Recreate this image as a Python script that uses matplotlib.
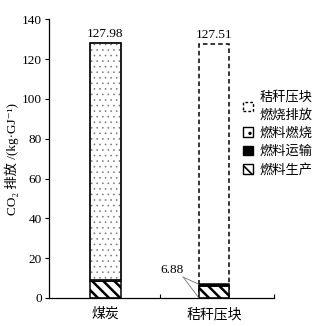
import matplotlib.pyplot as plt
from matplotlib.patches import Patch

plt.rcParams['font.family'] = ['Liberation Serif', 'Noto Sans CJK SC', 'DejaVu Serif']
plt.rcParams['axes.linewidth'] = 0.9

categories = ['煤炭', '秸秆压块']
production = [8.5, 5.9]
transport = [0.6, 0.98]
combustion = [118.88, 0.0]
straw_burn_total = 127.51
totals = [127.98, 127.51]
straw_small_total = 6.88

fig = plt.figure(figsize=(3.26, 3.26), dpi=100)
ax = fig.add_axes([0.150, 0.086, 0.690, 0.855])

x = [0, 1]
w = 0.28

# dashed outline for straw briquette combustion emissions
ax.bar(x[1], straw_burn_total, w, fill=False, edgecolor='black',
       linestyle=(0, (3, 2)), linewidth=1.1, zorder=1)

plt.rcParams['hatch.linewidth'] = 1.8
ax.bar(x, production, w, facecolor='white', edgecolor='black',
       hatch='\\\\\\', linewidth=1.1, zorder=2)
ax.bar(x, transport, w, bottom=production, facecolor='black',
       edgecolor='black', linewidth=1.1, zorder=2)
bottom3 = [p + t for p, t in zip(production, transport)]
plt.rcParams['hatch.linewidth'] = 0.4
ax.bar(x[0], combustion[0], w, bottom=bottom3[0], facecolor='white',
       edgecolor='0.45', hatch='...', linewidth=1.1, zorder=2)
ax.bar(x[0], combustion[0], w, bottom=bottom3[0], fill=False,
       edgecolor='black', linewidth=1.1, zorder=3)

for xi, t in zip(x, totals):
    ax.text(xi, t + 1.5, f'{t:.2f}', ha='center', va='bottom', fontsize=9.5)

# bracket annotation for the small straw stack
ax.text(0.61, 14, f'{straw_small_total:.2f}', ha='center', va='center',
        fontsize=9.5)
for yy in (straw_small_total, 0):
    ax.annotate('', xy=(x[1] - w / 2, yy), xytext=(0.715, 10.5),
                arrowprops=dict(arrowstyle='-', color='0.45', lw=0.6,
                                shrinkA=0, shrinkB=0))

ax.set_xlim(-0.52, 1.55)
ax.set_ylim(0, 140)
ax.set_yticks(range(0, 141, 20))
ax.tick_params(axis='y', direction='out', length=3, width=0.8, labelsize=9.5, pad=2)
ax.set_xticks([0.5, 1.55])
ax.set_xticklabels(['', ''])
ax.tick_params(axis='x', direction='in', length=3, width=0.8)
for xi, c in zip(x, categories):
    ax.text(xi, -5, c, ha='center', va='top', fontsize=10)
ax.spines['top'].set_visible(False)
ax.spines['right'].set_visible(False)
ax.set_ylabel('CO₂ 排放 /(kg·GJ⁻¹)', fontsize=9.5, labelpad=2)

plt.rcParams['hatch.linewidth'] = 1.2
handles = [
    Patch(facecolor='white', edgecolor='black', linestyle=(0, (2, 1.5)), linewidth=1.0),
    Patch(facecolor='white', edgecolor='black', hatch='..', linewidth=1.0),
    Patch(facecolor='black', edgecolor='black', linewidth=1.0),
    Patch(facecolor='white', edgecolor='black', hatch='\\\\\\', linewidth=1.0),
]
labels = ['秸秆压块\n燃烧排放', '燃料燃烧', '燃料运输', '燃料生产']
leg = fig.legend(handles, labels, loc='upper left', bbox_to_anchor=(0.71, 0.755),
                 frameon=False, fontsize=9.5, handlelength=0.75, handleheight=0.75,
                 handletextpad=0.45, labelspacing=0.45)
for t in leg.get_texts():
    t.set_linespacing(1.4)

fig.savefig('out.png', dpi=100)
